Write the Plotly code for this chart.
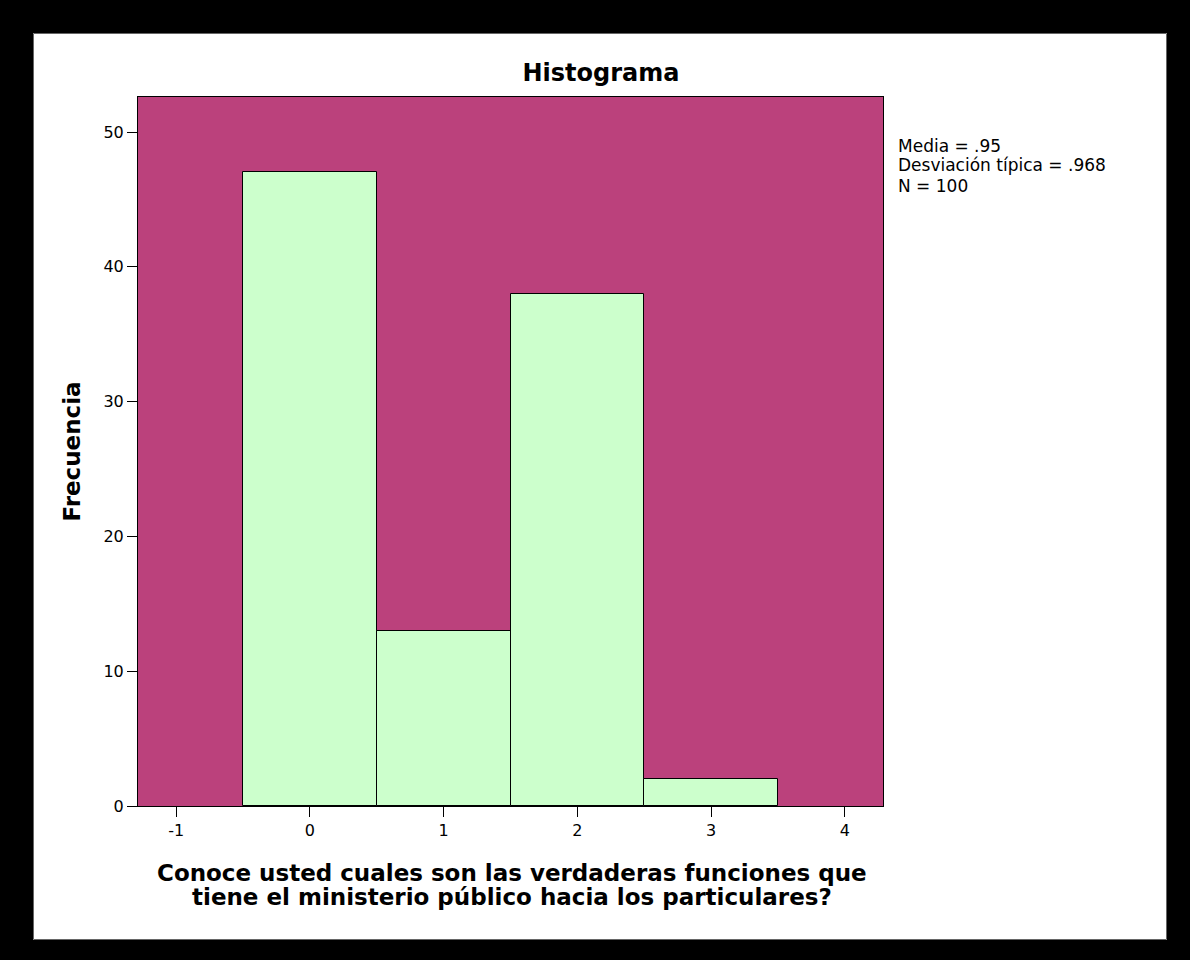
import plotly.graph_objects as go

# ---- data ----
categories = [0, 1, 2, 3]
frequencies = [47, 13, 38, 2]
x_tick_vals = [-1, 0, 1, 2, 3, 4]
x_tick_text = ["-1", "0", "1", "2", "3", "4"]
y_tick_vals = [0, 10, 20, 30, 40, 50]
stats_lines = ["Media = .95", "Desviación típica = .968", "N = 100"]
title_text = "Histograma"
x_title_lines = ["Conoce usted cuales son las verdaderas funciones que",
                 "tiene el ministerio público hacia los particulares?"]
y_title_text = "Frecuencia"

W, H = 1190, 960
L, R, T, B = 138, 307, 97, 154
PW, PH = W - L - R, H - T - B
FONT = "DejaVu Sans"


def px_x(px):
    return (px - L) / PW


def px_y(py):
    return (H - B - py) / PH


fig = go.Figure()
fig.add_trace(go.Bar(
    x=categories, y=frequencies, width=1,
    marker=dict(color="#CCFFCC", line=dict(color="black", width=1)),
    showlegend=False, hoverinfo="x+y",
))

fig.update_layout(
    width=W, height=H,
    margin=dict(l=L, r=R, t=T, b=B, pad=0),
    paper_bgcolor="white",
    plot_bgcolor="#BB417C",
    font=dict(family=FONT, color="black", size=16),
    title=dict(text=title_text, font=dict(family=FONT, size=24, color="black", weight="bold"),
               x=px_x(601), xref="paper", xanchor="center",
               y=1 - 73 / H, yref="container", yanchor="middle"),
    xaxis=dict(range=[-1.285, 4.285], tickmode="array", tickvals=x_tick_vals, ticktext=x_tick_text,
               ticks="outside", ticklen=10, tickwidth=1, tickcolor="black",
               showline=True, linecolor="black", linewidth=1, mirror=True,
               showgrid=False, zeroline=False, tickfont=dict(size=16, color="black")),
    yaxis=dict(range=[0, 52.6], tickmode="array", tickvals=y_tick_vals,
               ticks="outside", ticklen=10, tickwidth=1, tickcolor="black",
               showline=True, linecolor="black", linewidth=1, mirror=True,
               showgrid=False, zeroline=False, tickfont=dict(size=16, color="black"),
               title=dict(text=y_title_text, font=dict(family=FONT, size=23, color="black", weight="bold"),
                          standoff=16)),
    bargap=0,
)

# x-axis title lines
for line, cy in zip(x_title_lines, [873, 897]):
    fig.add_annotation(text=line, xref="paper", yref="paper", x=px_x(511.5), y=px_y(cy),
                       xanchor="center", yanchor="middle", showarrow=False,
                       font=dict(family=FONT, size=23, color="black", weight="bold"))

# statistics box
for line, cy in zip(stats_lines, [145.5, 165.5, 186]):
    fig.add_annotation(text=line, xref="paper", yref="paper", x=px_x(896), y=px_y(cy),
                       xanchor="left", yanchor="middle", showarrow=False,
                       font=dict(family=FONT, size=17, color="black"))

# black frame around the chart (outer edges extended past the page)
frame = [(-20, -20, 33, H + 20), (-20, -20, W + 20, 33),
         (1167, -20, W + 20, H + 20), (-20, 940, W + 20, H + 20)]
for x0, y0, x1, y1 in frame:
    fig.add_shape(type="rect", xref="paper", yref="paper",
                  x0=px_x(x0), x1=px_x(x1), y0=px_y(y1), y1=px_y(y0),
                  fillcolor="black", line=dict(width=0), layer="above")

# thin grey edge of the white panel
fig.add_shape(type="rect", xref="paper", yref="paper",
              x0=px_x(33.5), x1=px_x(1166.5), y0=px_y(939.5), y1=px_y(33.5),
              fillcolor="rgba(0,0,0,0)", line=dict(color="#666666", width=1), layer="above")

fig.write_html("out.html", config={"displayModeBar": False},
               post_script="document.body.style.margin='0';document.body.style.overflow='hidden';")
